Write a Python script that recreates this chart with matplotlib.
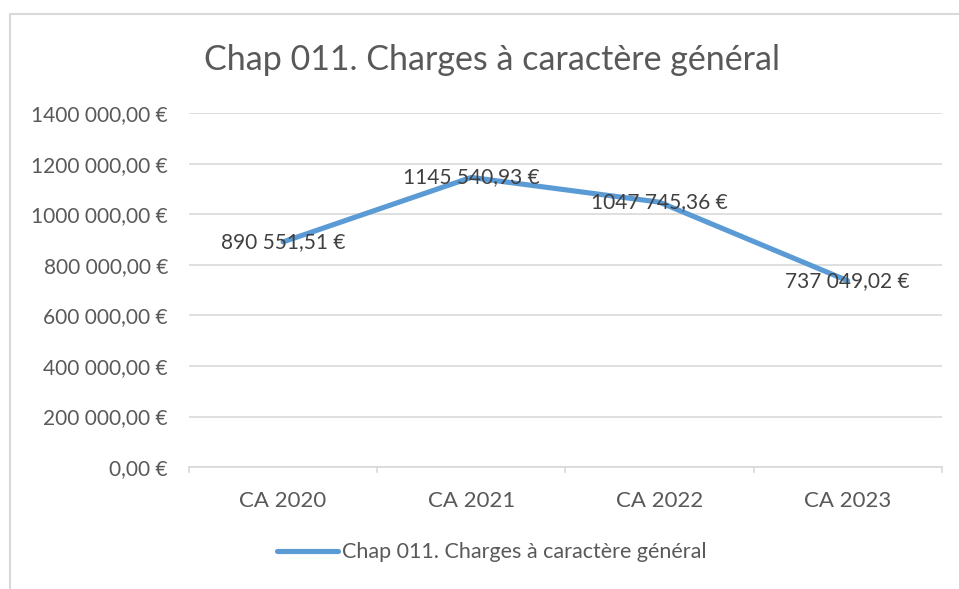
import matplotlib
matplotlib.use("Agg")
import matplotlib.pyplot as plt
from matplotlib.lines import Line2D
from matplotlib.patches import Rectangle

categories = ["CA 2020", "CA 2021", "CA 2022", "CA 2023"]
values = [890551.51, 1145540.93, 1047745.36, 737049.02]
yticks = [0, 200000, 400000, 600000, 800000, 1000000, 1200000, 1400000]
series_name = "Chap 011. Charges à caractère général"
title = "Chap 011. Charges à caractère général"


def fmt_eur(v):
    # Excel-style french format as seen in the picture: "1145 540,93 €"
    s = f"{v:,.2f}"
    ent, dec = s.split(".")
    parts = ent.split(",")
    if len(parts) > 1:
        ent = "".join(parts[:-1]) + " " + parts[-1]
    return f"{ent},{dec} €"


plt.rcParams['font.family'] = ['Lato', 'DejaVu Sans']

fig = plt.figure(figsize=(9.59, 5.89), dpi=100)
ax = fig.add_axes([0.197, 0.207, 0.785, 0.601])

x = list(range(len(categories)))
ax.plot(x, values, color="#5B9BD5", linewidth=3.7, solid_capstyle="round", zorder=3)

for xi, v in zip(x, values):
    ax.text(xi, v, fmt_eur(v), ha="center", va="center", fontsize=15, color="#404040", zorder=4)

ax.set_xlim(-0.5, len(categories) - 0.5)
ax.set_ylim(0, 1400000)
ax.set_yticks(yticks)
ax.set_yticklabels([fmt_eur(t) for t in yticks], fontsize=15, color="#595959")
ax.set_xticks(x)
ax.set_xticklabels(categories, fontsize=16, color="#595959")
ax.tick_params(axis="y", length=0, pad=15)
ax.tick_params(axis="x", length=0, pad=17)

# category boundary ticks on the x axis
for b in [i - 0.5 for i in range(len(categories) + 1)]:
    ax.plot([b, b], [0, -18000], color="#D9D9D9", linewidth=1.2, clip_on=False)

ax.grid(axis="y", color="#D9D9D9", linewidth=1.2)
ax.set_axisbelow(True)
for side in ["top", "right", "left"]:
    ax.spines[side].set_visible(False)
ax.spines["bottom"].set_color("#D9D9D9")
ax.spines["bottom"].set_linewidth(1.2)

fig.text(0.513, 0.898, title, ha="center", va="center", fontsize=24.5, color="#595959")

handle = Line2D([], [], color="#5B9BD5", linewidth=3.7, solid_capstyle="round")
fig.legend([handle], [series_name], loc="center", bbox_to_anchor=(0.513, 0.062),
           frameon=False, fontsize=15.5, labelcolor="#595959",
           handlelength=2.8, handletextpad=0.2)

# outer chart border (only top and left visible in the crop)
fig.add_artist(Rectangle((10 / 959, -0.1), 1.2, 1 - 14 / 589 + 0.1, transform=fig.transFigure,
                         fill=False, edgecolor="#D9D9D9", linewidth=1.5))

fig.savefig("out.png", dpi=100, facecolor="white")
